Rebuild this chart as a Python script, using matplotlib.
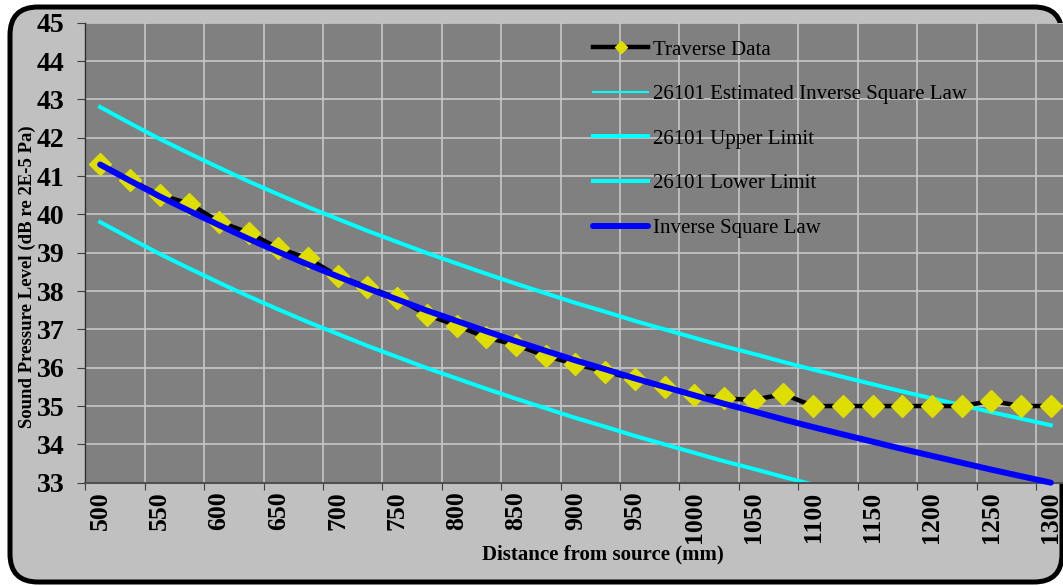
import matplotlib
matplotlib.use("Agg")
import matplotlib.pyplot as plt
from matplotlib.patches import FancyBboxPatch
from matplotlib.transforms import IdentityTransform
from matplotlib.ticker import FixedLocator, NullFormatter

# Distance from source (mm), one reading every 25 mm
distance_mm = [500, 525, 550, 575, 600, 625, 650, 675, 700, 725, 750, 775,
               800, 825, 850, 875, 900, 925, 950, 975, 1000, 1025, 1050,
               1075, 1100, 1125, 1150, 1175, 1200, 1225, 1250, 1275, 1300]

traverse_db = [41.31, 40.90, 40.51, 40.28, 39.81, 39.52, 39.12, 38.85, 38.39,
               38.11, 37.81, 37.38, 37.10, 36.79, 36.59, 36.31, 36.09, 35.90,
               35.70, 35.49, 35.30, 35.20, 35.16, 35.31, 35.00, 35.00, 35.00,
               35.00, 35.00, 35.00, 35.13, 35.00, 35.00]

inverse_square_db = [41.30, 40.88, 40.47, 40.09, 39.72, 39.36, 39.02, 38.69,
                     38.38, 38.07, 37.78, 37.49, 37.22, 36.95, 36.69, 36.44,
                     36.19, 35.96, 35.72, 35.50, 35.28, 35.06, 34.86, 34.65,
                     34.45, 34.26, 34.07, 33.88, 33.70, 33.52, 33.34, 33.17,
                     33.00]

estimated_db = [41.30, 40.88, 40.47, 40.09, 39.72, 39.36, 39.02, 38.69,
                38.38, 38.07, 37.78, 37.49, 37.22, 36.95, 36.69, 36.44,
                36.19, 35.96, 35.72, 35.50, 35.28, 35.06, 34.86, 34.65,
                34.45, 34.26, 34.07, 33.88, 33.70, 33.52, 33.34, 33.17,
                33.00]

upper_db = [42.80, 42.38, 41.97, 41.59, 41.22, 40.86, 40.52, 40.19, 39.88,
            39.57, 39.28, 38.99, 38.72, 38.45, 38.19, 37.94, 37.69, 37.46,
            37.22, 37.00, 36.78, 36.56, 36.36, 36.15, 35.95, 35.76, 35.57,
            35.38, 35.20, 35.02, 34.84, 34.67, 34.50]

lower_db = [39.80, 39.38, 38.97, 38.59, 38.22, 37.86, 37.52, 37.19, 36.88,
            36.57, 36.28, 35.99, 35.72, 35.45, 35.19, 34.94, 34.69, 34.46,
            34.22, 34.00, 33.78, 33.56, 33.36, 33.15, 32.95, 32.76, 32.57,
            32.38, 32.20, 32.02, 31.84, 31.67, 31.50]

x_labels = list(range(500, 1301, 50))
y_ticks = list(range(33, 46))

SERIF = ["Liberation Serif", "DejaVu Serif"]
plt.rcParams["font.family"] = SERIF

fig = plt.figure(figsize=(10.63, 5.86), dpi=100, facecolor="white")

# rounded chart-area frame, in pixels
frame = FancyBboxPatch((10, 4), 1052, 575,
                       boxstyle="round,pad=0,rounding_size=28",
                       transform=IdentityTransform(),
                       facecolor="#c0c0c0", edgecolor="black",
                       linewidth=3.6, zorder=-1)
fig.add_artist(frame)

ax = fig.add_axes([0.0802, 0.1763, 0.9223, 0.785])
ax.set_facecolor("#808080")

ax.plot(distance_mm, traverse_db, color="black", lw=3.2, marker="D",
        markersize=10.8, markerfacecolor="#dede00", markeredgecolor="#dede00",
        label="Traverse Data", zorder=3)
ax.plot(distance_mm, estimated_db, color="#00ffff", lw=1.5,
        label="26101 Estimated Inverse Square Law", zorder=2)
ax.plot(distance_mm, upper_db, color="#00ffff", lw=2.9,
        label="26101 Upper Limit", zorder=2)
ax.plot(distance_mm, lower_db, color="#00ffff", lw=2.9,
        label="26101 Lower Limit", zorder=2)
ax.plot(distance_mm, inverse_square_db, color="#0000ff", lw=4.3,
        solid_capstyle="round", label="Inverse Square Law", zorder=4,
        clip_on=False)

ax.set_xlim(487.5, 1312.5)
ax.set_ylim(33, 45)

# labels sit on the readings, ticks and gridlines fall between them
ax.xaxis.set_major_locator(FixedLocator(x_labels))
ax.set_xticklabels([str(v) for v in x_labels], rotation=90,
                   fontsize=18.5, fontweight="bold", va="top", ha="center")
ax.xaxis.set_minor_locator(FixedLocator([v - 12.5 for v in x_labels]))
ax.xaxis.set_minor_formatter(NullFormatter())
ax.tick_params(axis="x", which="major", length=0, pad=6.5)
ax.tick_params(axis="x", which="minor", direction="out", length=5,
               width=0.8, color="#404040")

ax.set_yticks(y_ticks)
ax.set_yticklabels([str(v) for v in y_ticks], fontsize=20,
                   fontweight="bold")
ax.tick_params(axis="y", direction="out", length=5.8, width=0.8,
               color="#404040", pad=9)

ax.grid(False)
ax.xaxis.grid(True, which="minor", color="#c8c8c8", lw=1.2)
ax.yaxis.grid(True, which="major", color="#c8c8c8", lw=1.2)
ax.set_axisbelow(True)

for side in ("top", "right"):
    ax.spines[side].set_visible(False)
ax.spines["left"].set_color("#303030")
ax.spines["left"].set_linewidth(1.0)
ax.spines["bottom"].set_color("#505050")
ax.spines["bottom"].set_linewidth(1.5)

fig.text(27 / 1063, 1 - 277 / 586, "Sound Pressure Level (dB re 2E-5 Pa)",
         rotation=90, ha="center", va="center", fontsize=13.5,
         fontweight="bold", zorder=0)
fig.text(603 / 1063, 1 - 554 / 586, "Distance from source (mm)",
         ha="center", va="center", fontsize=15, fontweight="bold")

ax.legend(loc="upper left", bbox_to_anchor=(593 / 1063, 1 - 40 / 586),
          bbox_transform=fig.transFigure, frameon=False, fontsize=15,
          borderpad=0, borderaxespad=0, handlelength=2.65,
          handletextpad=0.22, labelspacing=1.2, numpoints=1,
          markerscale=0.6)

fig.savefig("out.png", dpi=100, facecolor=fig.get_facecolor())
